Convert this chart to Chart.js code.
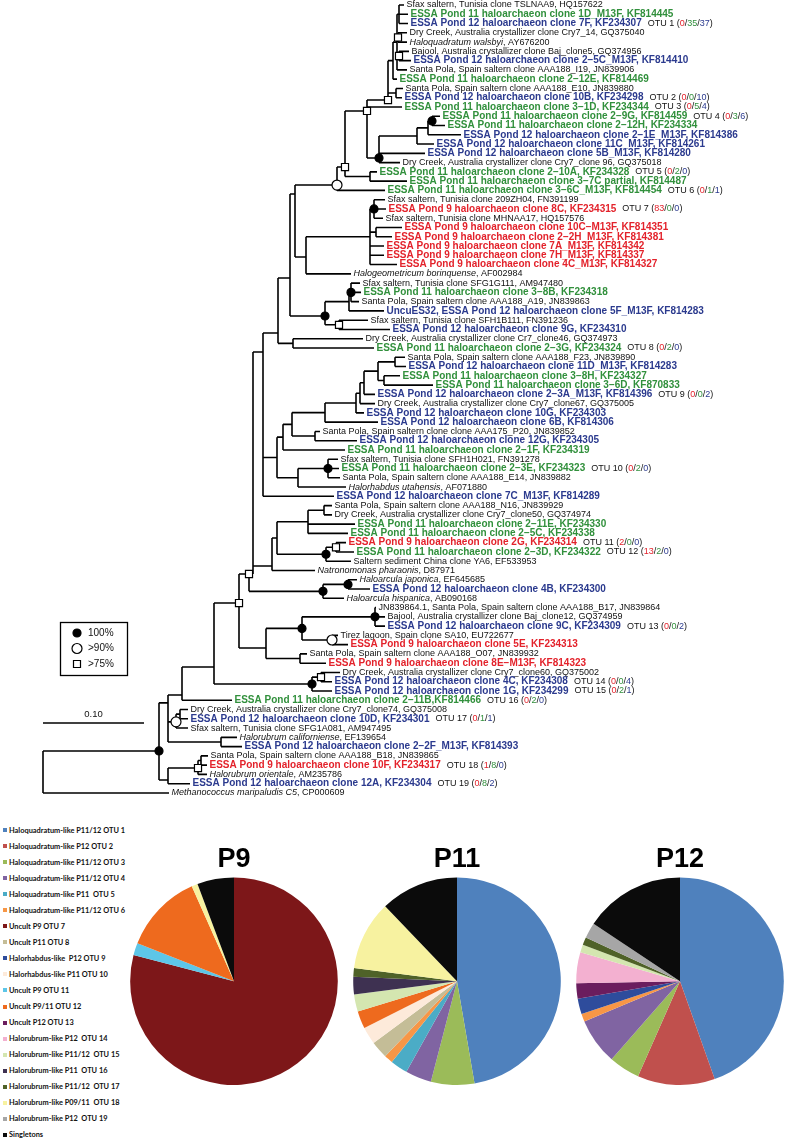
<!DOCTYPE html>
<html lang="en">
<head>
<meta charset="UTF-8">
<title>Haloarchaeal clone tree and OTU pies</title>
<script src="https://cdn.jsdelivr.net/npm/chart.js"></script>
<style>
  body { margin: 0; background: #fff; }
  #page { position: relative; width: 787px; height: 1141px; overflow: hidden; }
  #tree { position: absolute; left: 0; top: 0; }
  .pie { position: absolute; top: 840px; }
  #legend { position: absolute; left: 0; top: 822px; font: bold 7.4px Lato, sans-serif; color: #111; }
  .lg { height: 16.05px; display: flex; align-items: center; white-space: pre; }
  .lg i { display: inline-block; width: 4px; height: 4px; margin: 0 2px 0 3px; }
</style>
</head>
<body>
<div id="page">
  <canvas id="tree" width="787" height="800"></canvas>
  <div id="legend"></div>
  <canvas id="pie9" class="pie" width="220" height="250" style="left:124px"></canvas>
  <canvas id="pie11" class="pie" width="220" height="250" style="left:347px"></canvas>
  <canvas id="pie12" class="pie" width="220" height="250" style="left:570px"></canvas>
</div>
<script>
// ---- tree leaves, top to bottom ----
const leafNames = [
  'Sfax saltern, Tunisia clone TSLNAA9, HQ157622',
  'ESSA Pond 11 haloarchaeon clone 1D_M13F, KF814445',
  'ESSA Pond 12 haloarchaeon clone 7F, KF234307',
  'Dry Creek, Australia crystallizer clone Cry7_14, GQ375040',
  'Haloquadratum walsbyi, AY676200',
  'Bajool, Australia crystallizer clone Baj_clone5, GQ374956',
  'ESSA Pond 12 haloarchaeon clone 2\u22125C_M13F, KF814410',
  'Santa Pola, Spain saltern clone AAA188_I19, JN839906',
  'ESSA Pond 11 haloarchaeon clone 2\u221212E, KF814469',
  'Santa Pola, Spain saltern clone AAA188_E10, JN839880',
  'ESSA Pond 12 haloarchaeon clone 10B, KF234298',
  'ESSA Pond 11 haloarchaeon clone 3\u22121D, KF234344',
  'ESSA Pond 11 haloarchaeon clone 2\u22129G, KF814459',
  'ESSA Pond 11 haloarchaeon clone 2\u221212H, KF234334',
  'ESSA Pond 12 haloarchaeon clone 2\u22121E_M13F, KF814386',
  'ESSA Pond 12 haloarchaeon clone 11C_M13F, KF814261',
  'ESSA Pond 12 haloarchaeon clone 5B_M13F, KF814280',
  'Dry Creek, Australia crystallizer clone Cry7_clone 96, GQ375018',
  'ESSA Pond 11 haloarchaeon clone 2\u221210A, KF234328',
  'ESSA Pond 11 haloarchaeon clone 3\u22127C partial, KF814487',
  'ESSA Pond 11 haloarchaeon clone 3\u22126C_M13F, KF814454',
  'Sfax saltern, Tunisia clone 209ZH04, FN391199',
  'ESSA Pond 9 haloarchaeon clone 8C, KF234315',
  'Sfax saltern, Tunisia clone MHNAA17, HQ157576',
  'ESSA Pond 9 haloarchaeon clone 10C\u2212M13F, KF814351',
  'ESSA Pond 9 haloarchaeon clone 2\u22122H_M13F, KF814381',
  'ESSA Pond 9 haloarchaeon clone 7A_M13F, KF814342',
  'ESSA Pond 9 haloarchaeon clone 7H_M13F, KF814337',
  'ESSA Pond 9 haloarchaeon clone 4C_M13F, KF814327',
  'Halogeometricum borinquense, AF002984',
  'Sfax saltern, Tunisia clone SFG1G111, AM947480',
  'ESSA Pond 11 haloarchaeon clone 3\u22128B, KF234318',
  'Santa Pola, Spain saltern clone AAA188_A19, JN839863',
  'UncuES32, ESSA Pond 12 haloarchaeon clone 5F_M13F, KF814283',
  'Sfax saltern, Tunisia clone SFH1B111, FN391236',
  'ESSA Pond 12 haloarchaeon clone 9G, KF234310',
  'Dry Creek, Australia crystallizer clone Cr7_clone46, GQ374973',
  'ESSA Pond 11 haloarchaeon clone 2\u22123G, KF234324',
  'Santa Pola, Spain saltern clone AAA188_F23, JN839890',
  'ESSA Pond 12 haloarchaeon clone 11D_M13F, KF814283',
  'ESSA Pond 11 haloarchaeon clone 3\u22128H, KF234327',
  'ESSA Pond 11 haloarchaeon clone 3\u22126D, KF870833',
  'ESSA Pond 12 haloarchaeon clone 2\u22123A_M13F, KF814396',
  'Dry Creek, Australia crystallizer clone Cry7_clone67, GQ375005',
  'ESSA Pond 12 haloarchaeon clone 10G, KF234303',
  'ESSA Pond 12 haloarchaeon clone 6B, KF814306',
  'Santa Pola, Spain saltern clone clone AAA175_P20, JN839852',
  'ESSA Pond 12 haloarchaeon clone 12G, KF234305',
  'ESSA Pond 11 haloarchaeon clone 2\u22121F, KF234319',
  'Sfax saltern, Tunisia clone SFH1H021, FN391278',
  'ESSA Pond 11 haloarchaeon clone 2\u22123E, KF234323',
  'Santa Pola, Spain saltern clone AAA188_E14, JN839882',
  'Halorhabdus utahensis, AF071880',
  'ESSA Pond 12 haloarchaeon clone 7C_M13F, KF814289',
  'Santa Pola, Spain saltern clone AAA188_N16, JN839929',
  'Dry Creek, Australia crystallizer clone Cry7_clone50, GQ374974',
  'ESSA Pond 11 haloarchaeon clone 2\u221211E, KF234330',
  'ESSA Pond 11 haloarchaeon clone 2\u22125C, KF234338',
  'ESSA Pond 9 haloarchaeon clone 2G, KF234314',
  'ESSA Pond 11 haloarchaeon clone 2\u22123D, KF234322',
  'Saltern sediment China clone YA6, EF533953',
  'Natronomonas pharaonis, D87971',
  'Haloarcula japonica, EF645685',
  'ESSA Pond 12 haloarchaeon clone 4B, KF234300',
  'Haloarcula hispanica, AB090168',
  'JN839864.1, Santa Pola, Spain saltern clone AAA188_B17, JN839864',
  'Bajool, Australia crystallizer clone Baj_clone12, GQ374959',
  'ESSA Pond 12 haloarchaeon clone 9C, KF234309',
  'Tirez lagoon, Spain clone SA10, EU722677',
  'ESSA Pond 9 haloarchaeon clone 5E, KF234313',
  'Santa Pola, Spain saltern clone AAA188_O07, JN839932',
  'ESSA Pond 9 haloarchaeon clone 8E\u2212M13F, KF814323',
  'Dry Creek, Australia crystallizer clone Cry7_clone60, GQ375002',
  'ESSA Pond 12 haloarchaeon clone 4C, KF234308',
  'ESSA Pond 12 haloarchaeon clone 1G, KF234299',
  'ESSA Pond 11 haloarchaeon clone 2\u221211B,KF814466',
  'Dry Creek, Australia crystallizer clone Cry7_clone74, GQ375008',
  'ESSA Pond 12 haloarchaeon clone 10D, KF234301',
  'Sfax saltern, Tunisia clone SFG1A081, AM947495',
  'Halorubrum californiense, EF139654',
  'ESSA Pond 12 haloarchaeon clone 2\u22122F_M13F, KF814393',
  'Santa Pola, Spain saltern clone AAA188_B18, JN839865',
  'ESSA Pond 9 haloarchaeon clone 10F, KF234317',
  'Halorubrum orientale, AM235786',
  'ESSA Pond 12 haloarchaeon clone 12A, KF234304',
  'Methanococcus maripaludis C5, CP000609'
];
// r = reference clone, s = named species (italic), p9/p11/p12 = ESSA pond clones
const leafGroups = [
  'r','p11','p12','r','s','r','p12','r','p11','r','p12','p11','p11','p11','p12','p12','p12','r','p11','p11',
  'p11','r','p9','r','p9','p9','p9','p9','p9','s','r','p11','r','p12','r','p12','r','p11','r','p12',
  'p11','p11','p12','r','p12','p12','r','p12','p11','r','p11','r','s','p12','r','r','p11','p11','p9','p11',
  'r','s','s','p12','s','r','r','p12','r','p9','r','p9','r','p12','p12','p11','r','p12','r','s',
  'p12','r','p9','s','p12','s'
];
// tip position of each leaf (tree x units, root at 43, 0.10 subst./site = 101 units)
const tipX = [
  404,408,408,407,407,409,411,407,397,403,402,402,440,445,461,434,425,400,377,407,
  385,385,386,383,402,392,384,384,397,351,360,361,359,384,368,390,363,374,405,406,
  400,433,375,375,364,378,320,357,345,338,339,340,346,334,332,332,355,348,346,354,
  351,315,357,370,344,376,385,385,338,348,307,326,340,332,332,232,188,188,188,237,
  242,208,207,207,190,169
];

// ---- OTU annotations (leaf number, counts in pond 9 / 11 / 12) ----
const otuLeaf = [3,11,12,13,19,21,23,38,43,51,59,60,68,74,75,76,78,83,85];
const otuP9  = [0,0,0,0,0,0,83,0,0,0,2,13,0,0,0,0,0,1,0];
const otuP11 = [35,0,5,3,2,1,0,2,0,2,0,2,0,0,2,2,1,8,8];
const otuP12 = [37,10,4,6,0,1,0,0,2,0,0,0,2,4,1,0,1,0,2];

// ---- internal nodes: [name, x, y (leaf-index units, null = centred), support, children] ----
// support: f = 100%, o = >90%, s = >75%; children: leaf numbers or node names
const nodes = [
  ['a1', 399, null, '', [1,2,3]],
  ['a2', 398, null, 's', [4,5]],
  ['a3', 399, null, 's', [6,7]],
  ['a4', 397, null, '', ['a1','a2','a3',8]],
  ['a5', 393, null, '', ['a4',9]],
  ['a6', 396, null, '', [10,11]],
  ['a7', 388, 10.25, 's', ['a5','a6']],
  ['a9', 432, null, 'f', [13,14]],
  ['a10', 428, null, '', ['a9',15]],
  ['a11', 417, null, '', ['a10',16]],
  ['a12', 379, 16.5, 'f', ['a11',17,18]],
  ['a8', 367, 11.43, 's', ['a7',12,'a12']],
  ['a13', 370, null, '', [19,20]],
  ['a14', 345, 17.48, 's', ['a8','a13']],
  ['a15', 337, 19.42, 'o', ['a14',21]],
  ['b1', 374, null, 'f', [22,23,24]],
  ['b2', 376, null, '', [25,26]],
  ['b3', 370, null, '', ['b1','b2',27,28,29]],
  ['b4', 306, 27.18, '', ['b3',30]],
  ['b5', 295, 20.39, '', ['a15','b4']],
  ['c1', 351, null, 'f', [31,32,33]],
  ['c2', 349, null, '', ['c1',34]],
  ['c3', 339, null, 's', [35,36]],
  ['c4', 325, 33.55, 'f', ['c2','c3']],
  ['c5', 290, 29.45, '', ['b5','c4']],
  ['c6', 293, null, '', [37,38]],
  ['c7', 278, 35.38, '', ['c5','c6']],
  ['d1', 395, null, '', [39,40]],
  ['d2', 384, null, '', [41,42]],
  ['d3', 378, null, '', ['d1','d2']],
  ['d4', 364, null, '', ['d3',43]],
  ['d5', 360, null, '', ['d4',44]],
  ['d6', 356, null, '', ['d5',45]],
  ['d6b', 325, null, '', ['d6',46]],
  ['d8', 315, null, '', [47,48]],
  ['d7', 292, null, '', ['d6b','d8']],
  ['d9', 283, null, '', ['d7',49]],
  ['d10', 328, null, 'f', [50,51,52]],
  ['d11', 298, null, '', ['d10',53]],
  ['d12', 277, null, '', ['d9','d11']],
  ['d13', 263, 37.43, '', ['c7','d12',54]],
  ['e1', 324, null, '', [55,56]],
  ['e2', 308, null, '', ['e1',57,58]],
  ['e4', 336, null, 's', [59,60]],
  ['e5', 326, null, 'f', ['e4',61]],
  ['e6', 277, null, '', ['e2','e5']],
  ['e7', 272, 60.52, '', ['e6',62]],
  ['d14', 253, 61.38, '', ['d13','e7']],
  ['f1', 348, null, 'f', [63,64]],
  ['f2', 323, null, 'f', ['f1',65]],
  ['gB', 249, 61.38, 's', ['d14','f2']],
  ['f3', 375, null, 'f', [66,67,68]],
  ['f4', 332, null, 'o', [69,70]],
  ['f5', 302, null, 'f', ['f3','f4']],
  ['f6', 300, null, '', [71,72]],
  ['f7', 266, 69.36, '', ['f5','f6']],
  ['g0', 239, 64.51, 's', ['gB','f7']],
  ['g1', 321, null, 's', [73,74]],
  ['g2', 312, null, 'f', ['g1',75]],
  ['g3', 214, 71.41, '', ['g0','g2']],
  ['h2', 182, 74.43, '', ['g3',76]],
  ['h4a', 180, null, '', [77,78]],
  ['h4', 176, 77.33, 'o', ['h4a',79]],
  ['h5', 221, null, '', [80,81]],
  ['h1', 168, 75.28, '', ['h2','h4','h5']],
  ['h7a', 201, null, '', [82,83]],
  ['h7', 198, 82.31, 's', ['h7a',84]],
  ['h6', 168, 83.6, '', ['h7',85]],
  ['I', 159, 80.47, 'f', ['h1','h6']],
  ['root', 43, null, '', ['I',86]]
];
const supportLabels = ['100%', '>90%', '>75%'];
const scaleBar = [43, 144];          // 0.10 substitutions per site
const scaleBarText = '0.10';

// ---- pies ----
const pieTitles = ['P9', 'P11', 'P12'];
const otuLegend = [
  'Haloquadratum-like P11/12 OTU 1', 'Haloquadratum-like P12 OTU 2', 'Haloquadratum-like P11/12 OTU 3',
  'Haloquadratum-like P11/12 OTU 4', 'Haloquadratum-like P11  OTU 5', 'Haloquadratum-like P11/12 OTU 6',
  'Uncult P9 OTU 7', 'Uncult P11 OTU 8', 'Halorhabdus-like  P12 OTU 9', 'Halorhabdus-like P11 OTU 10',
  'Uncult P9 OTU 11', 'Uncult P9/11 OTU 12', 'Uncult P12 OTU 13', 'Halorubrum-like P12  OTU 14',
  'Halorubrum-like P11/12  OTU 15', 'Halorubrum-like P11  OTU 16', 'Halorubrum-like P11/12  OTU 17',
  'Halorubrum-like P09/11  OTU 18', 'Halorubrum-like P12  OTU 19', 'Singletons'
];
const otuColors = [
  '#4f81bd', '#c0504d', '#9bbb59', '#8064a2', '#4bacc6', '#f79646', '#7d1719', '#c4bd97', '#2e4c9c', '#fdeada',
  '#5dc6e8', '#ee6a1e', '#6b1d5e', '#f3b0d0', '#d4e6b0', '#3e3151', '#4f6228', '#f7f2a0', '#a6a6a6', '#0b0b0b'
];
const p9Counts  = [0,0,0,0,0,0,83,0,0,0,2,13,0,0,0,0,0,1,0,6];
const p11Counts = [35,0,5,3,2,1,0,2,0,2,0,2,0,0,2,2,1,8,0,9];
const p12Counts = [37,10,4,6,0,1,0,0,2,0,0,0,2,4,1,0,1,0,2,13];

const FF = '"Liberation Sans", Arial, sans-serif';
const groupColor = { p9: '#e3222b', p11: '#31903c', p12: '#2b3a8e' };
const countColor = ['#e3222b', '#31903c', '#2b3a8e'];

// ---- lay out the tree ----
const nodeByName = {};
nodes.forEach(n => { nodeByName[n[0]] = n; });
const placed = {};
function place(ref) {
  if (typeof ref === 'number') return { x: tipX[ref - 1], y: ref - 1, kids: [] };
  if (placed[ref]) return placed[ref];
  const [name, x, yIdx, sup, children] = nodeByName[ref];
  const kids = children.map(place);
  const ys = kids.map(k => k.y);
  const y = yIdx != null ? yIdx : (Math.min(...ys) + Math.max(...ys)) / 2;
  return (placed[ref] = { x, y, kids, sup });
}
const rootNode = place('root');

const branchPts = [];
const marks = { f: [], o: [], s: [] };
(function walk(n) {
  if (!n.kids.length) return;
  const ys = n.kids.map(k => k.y).concat(n.y);
  branchPts.push({ x: n.x, y: Math.min(...ys) }, { x: n.x, y: Math.max(...ys) }, { x: NaN, y: NaN });
  n.kids.forEach(k => {
    branchPts.push({ x: n.x, y: k.y }, { x: k.x, y: k.y }, { x: NaN, y: NaN });
    walk(k);
  });
  if (n.sup) marks[n.sup].push({ x: n.x, y: n.y });
})(rootNode);

function put(ctx, text, x, y, font, color) {
  ctx.font = font;
  ctx.fillStyle = color;
  ctx.fillText(text, x, y);
  return x + ctx.measureText(text).width;
}

function supportSymbol(ctx, kind, cx, cy) {
  ctx.beginPath();
  if (kind === 's') ctx.rect(cx - 3.5, cy - 3.5, 7, 7);
  else ctx.arc(cx, cy, kind === 'f' ? 4 : 5, 0, Math.PI * 2);
  ctx.fillStyle = kind === 'f' ? '#000' : '#fff';
  ctx.fill();
  ctx.lineWidth = 1.2;
  ctx.strokeStyle = '#000';
  ctx.stroke();
}

const treeText = {
  id: 'treeText',
  afterDatasetsDraw(chart) {
    const { ctx, scales: { x, y } } = chart;
    ctx.save();
    ctx.textBaseline = 'middle';
    leafNames.forEach((name, i) => {
      let px = x.getPixelForValue(tipX[i]) + 2.5;
      const py = y.getPixelForValue(i);
      const g = leafGroups[i];
      if (g === 's') {
        const k = name.lastIndexOf(', ');
        px = put(ctx, name.slice(0, k), px, py, 'italic 9px ' + FF, '#111');
        px = put(ctx, name.slice(k), px, py, '9px ' + FF, '#111');
      } else if (g === 'r') {
        px = put(ctx, name, px, py, '9px ' + FF, '#111');
      } else {
        px = put(ctx, name, px, py, 'bold 10px ' + FF, groupColor[g]);
      }
      const o = otuLeaf.indexOf(i + 1);
      if (o >= 0) {
        px += 6;
        px = put(ctx, 'OTU ' + (o + 1) + ' (', px, py, '9px ' + FF, '#111');
        [otuP9[o], otuP11[o], otuP12[o]].forEach((v, j) => {
          if (j) px = put(ctx, '/', px, py, '9px ' + FF, '#111');
          px = put(ctx, String(v), px, py, '9px ' + FF, countColor[j]);
        });
        put(ctx, ')', px, py, '9px ' + FF, '#111');
      }
    });

    // support value key
    ctx.lineWidth = 1.3;
    ctx.strokeStyle = '#000';
    ctx.strokeRect(60.5, 622.5, 67, 53);
    ['f', 'o', 's'].forEach((k, j) => {
      const cy = 633 + j * 15.5;
      supportSymbol(ctx, k, 77, cy);
      put(ctx, supportLabels[j], 88, cy, '10px ' + FF, '#111');
    });

    // scale bar label
    const sy = y.getPixelForValue(77.45);
    ctx.textAlign = 'center';
    put(ctx, scaleBarText, (x.getPixelForValue(scaleBar[0]) + x.getPixelForValue(scaleBar[1])) / 2, sy - 9, '9.5px ' + FF, '#111');
    ctx.restore();
  }
};

const pointSet = (data, style, r, bg, order) => ({
  data, pointStyle: style, pointRadius: r, backgroundColor: bg, borderColor: '#000',
  pointBorderWidth: 1.2, showLine: false, order
});

new Chart(document.getElementById('tree'), {
  type: 'scatter',
  data: {
    datasets: [
      { data: branchPts, showLine: true, spanGaps: false, borderColor: '#000', borderWidth: 1.6, pointRadius: 0, order: 3 },
      { data: scaleBar.map(v => ({ x: v, y: 77.45 })), showLine: true, borderColor: '#000', borderWidth: 1.6, pointRadius: 0, order: 3 },
      pointSet(marks.f, 'circle', 4, '#000', 1),
      pointSet(marks.o, 'circle', 5, '#fff', 1),
      pointSet(marks.s, 'rect', 5, '#fff', 1)
    ]
  },
  options: {
    responsive: false,
    animation: false,
    events: [],
    layout: { padding: 0, autoPadding: false },
    scales: {
      x: { type: 'linear', min: 0, max: 787, display: false },
      y: { type: 'linear', min: -0.54, max: 85.76, reverse: true, display: false }
    },
    plugins: { legend: { display: false }, tooltip: { enabled: false } }
  },
  plugins: [treeText]
});

// ---- pie charts ----
const pieCounts = [p9Counts, p11Counts, p12Counts];
['pie9', 'pie11', 'pie12'].forEach((id, k) => {
  new Chart(document.getElementById(id), {
    type: 'pie',
    data: {
      labels: otuLegend,
      datasets: [{ data: pieCounts[k], backgroundColor: otuColors, borderWidth: 0 }]
    },
    options: {
      responsive: false,
      animation: false,
      events: [],
      layout: { padding: { top: 1, bottom: 5, left: 6, right: 6 } },
      plugins: {
        legend: { display: false },
        tooltip: { enabled: false },
        title: {
          display: true, text: pieTitles[k], color: '#000',
          font: { family: FF, size: 27, weight: 'bold' },
          padding: { top: 2, bottom: 2 }
        }
      }
    }
  });
});

// ---- OTU key ----
const legendBox = document.getElementById('legend');
otuLegend.forEach((t, i) => {
  const row = document.createElement('div');
  row.className = 'lg';
  const sw = document.createElement('i');
  sw.style.background = otuColors[i];
  row.appendChild(sw);
  row.appendChild(document.createTextNode(t));
  legendBox.appendChild(row);
});
</script>
</body>
</html>
